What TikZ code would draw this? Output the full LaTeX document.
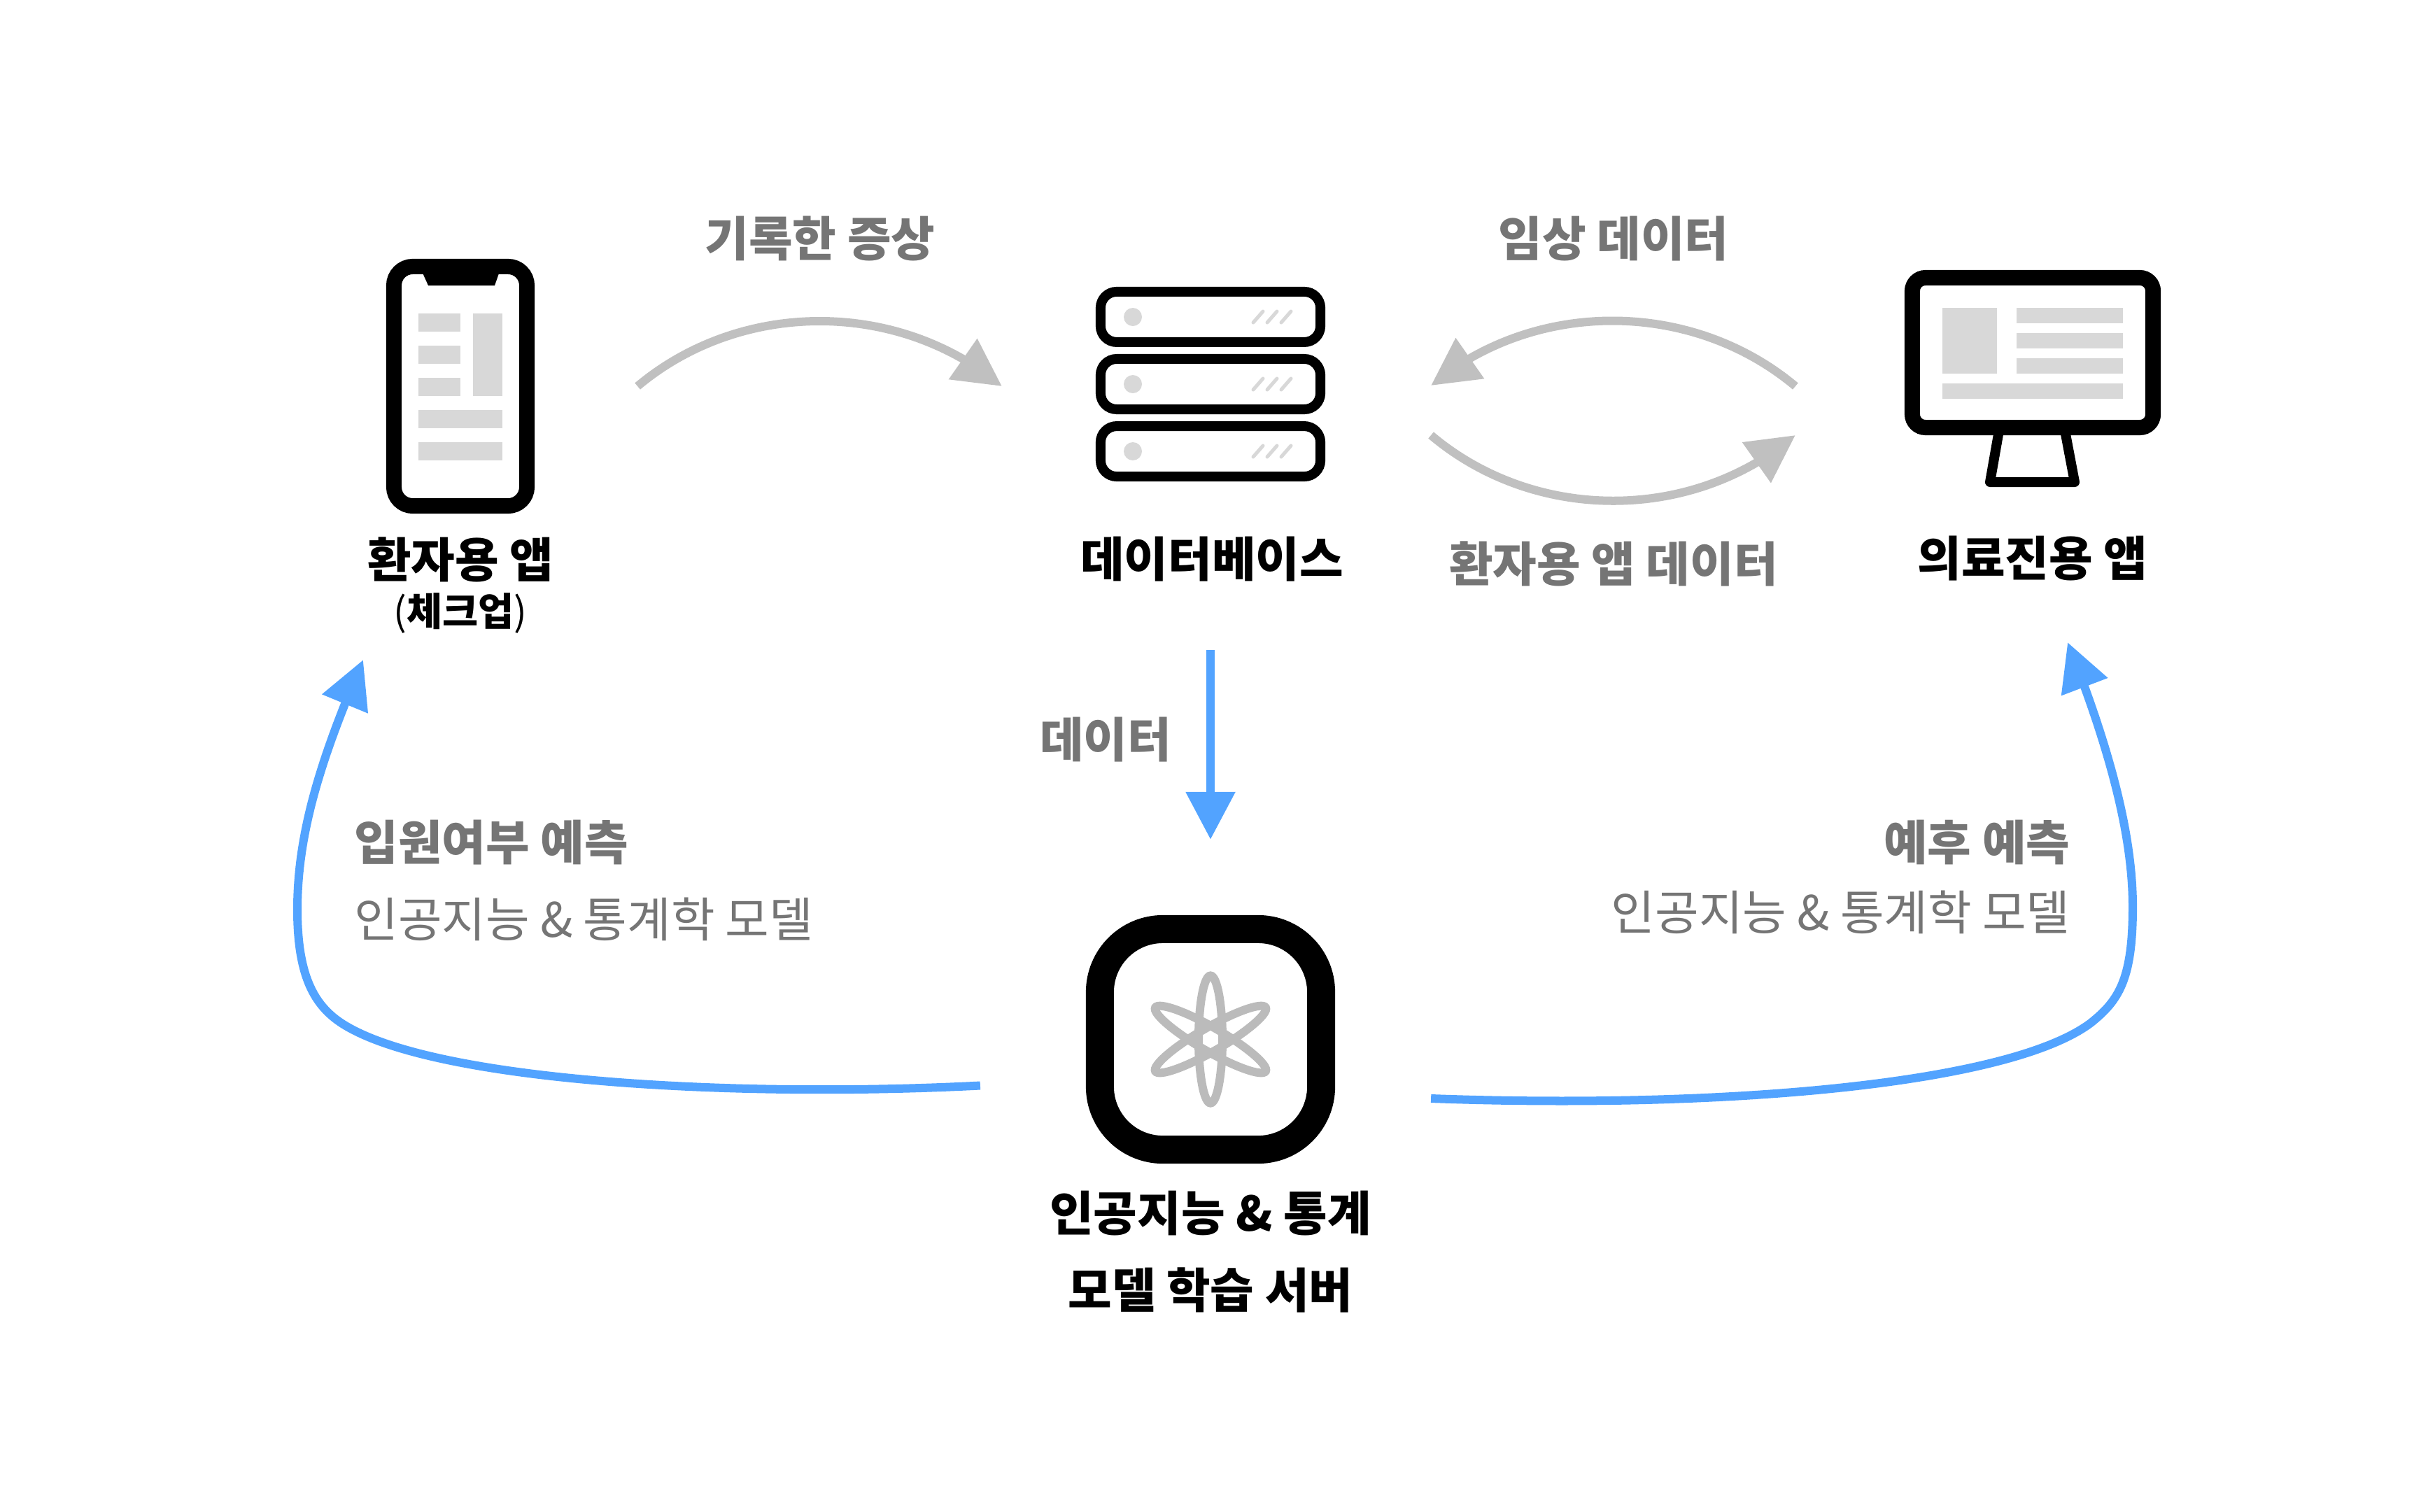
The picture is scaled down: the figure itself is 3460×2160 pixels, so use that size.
\documentclass[tikz,border=0pt]{standalone}
\usepackage{fontspec}
\setmainfont{Noto Sans CJK KR}
\usetikzlibrary{arrows.meta, bending, positioning}
\definecolor{panelgray}{HTML}{D8D8D8}
\definecolor{linegray}{HTML}{C0C0C0}
\definecolor{orbitgray}{HTML}{BBBBBB}
\definecolor{textgray}{HTML}{757575}
\definecolor{flowblue}{HTML}{52A3FF}

\begin{document}
\begin{tikzpicture}[
  x=0.01cm, y=-0.01cm,
  iconframe/.style={rectangle, draw=black, fill=white, inner sep=0pt},
  rackframe/.style={iconframe, line width=0.14cm, rounded corners=0.23cm, minimum width=3.14cm, minimum height=0.72cm},
  panel/.style={fill=panelgray},
  titletext/.style={inner sep=0pt, align=center, font=\fontsize{19.35}{31.3}\selectfont\bfseries},
  subtext/.style={inner sep=0pt, font=\fontsize{15.8}{18}\selectfont\bfseries},
  flowtext/.style={inner sep=0pt, text=textgray, font=\fontsize{19.35}{31.3}\selectfont\bfseries},
  predtext/.style={inner sep=0pt, text=textgray, font=\fontsize{19.35}{31.3}\selectfont},
  grayarrow/.style={-{Triangle[length=0.68cm, width=0.68cm]}, draw=linegray, line width=0.12cm},
  bluearrow/.style={-{Triangle[length=0.68cm, width=0.68cm]}, draw=flowblue, line width=0.12cm}
]
  \useasboundingbox (0,0) rectangle (3460,2160);

  % phone
  \node[iconframe, line width=0.22cm, rounded corners=0.27cm, minimum width=1.9cm, minimum height=3.42cm] (phone) at (658,552) {};
  \fill (603,388) -- (612,408) -- (707,408) -- (714,388) -- cycle;
  \foreach \y in {448,494,540} \fill[panel] (598,\y) rectangle +(60,26);
  \fill[panel] (676,448) rectangle (718,566);
  \fill[panel] (598,586) rectangle (718,612);
  \fill[panel] (598,632) rectangle (718,658);
  \node[titletext, below=0.33cm of phone] (phonename) {환자용 앱};
  \node[subtext, below=0.14cm of phonename] (phonesub) {{\mdseries(}체크업{\mdseries)}};

  % database
  \node[rackframe] (dbmid) at (1730,549) {};
  \node[rackframe, above=0.1cm of dbmid] (dbtop) {};
  \node[rackframe, below=0.1cm of dbmid] (dbbot) {};
  \foreach \y in {453,549,645} {
    \fill[panel] (1619,\y) circle [radius=0.13cm];
    \foreach \x in {1791,1811,1831}
      \draw[panelgray, line width=0.05cm, line cap=round] (\x,\y+8) -- (\x+14,\y-8);
  }
  \node[titletext, below=0.78cm of dbbot, xshift=0.02cm] (dbname) {데이터베이스};

  % monitor
  \draw[line width=0.14cm, line join=round] (2857,615) -- (2844,689) -- (2965,689) -- (2951,615);
  \node[iconframe, line width=0.22cm, rounded corners=0.19cm, minimum width=3.44cm, minimum height=2.14cm] (monitor) at (2905,504) {};
  \fill[panel] (2776,440) rectangle (2854,534);
  \foreach \y in {440,476,512} \fill[panel] (2882,\y) rectangle +(152,22);
  \fill[panel] (2776,548) rectangle (3034,570);
  \node[titletext, below=1.43cm of monitor] (monitorname) {의료진용 앱};

  % server
  \node[iconframe, line width=0.4cm, rounded corners=0.9cm, minimum width=3.16cm, minimum height=3.15cm] (server) at (1730,1485.5) {};
  \foreach \a in {0,60,120}
    \draw[orbitgray, line width=0.12cm, rotate around={\a:(server.center)}] (server.center) ellipse [x radius=0.17cm, y radius=0.91cm];
  \node[titletext, below=0.38cm of server] (servername) {인공지능 \& 통계\\모델 학습 서버};

  % flow labels
  \node[flowtext] (symptomtext) at (1172,341) {기록한 증상};
  \node[flowtext] (clinicaltext) at (2306,341) {임상 데이터};
  \node[flowtext] (apptext) at (2306,806) {환자용 앱 데이터};
  \node[flowtext] (datatext) at (1580,1057) {데이터};
  \node[predtext, align=left, anchor=north west] (admittext) at (506,1171) {{\bfseries 입원여부 예측}\\인공지능 \& 통계학 모델};
  \node[predtext, align=right, anchor=north east] (prognosistext) at (2959,1171) {{\bfseries 예후 예측}\\[-2.84pt]인공지능 \& 통계학 모델};

  % arrows
  \draw[grayarrow] ([xshift=1.47cm]phone.east) .. controls +(148,-124) and +(-148,-124) .. ([shift={(-134,3)}]dbmid.west);
  \draw[grayarrow] ([shift={(-156,48)}]monitor.west) .. controls +(-148,-124) and +(148,-124) .. ([shift={(151,2)}]dbmid.east);
  \draw[grayarrow] ([shift={(151,73)}]dbmid.east) .. controls +(148,125) and +(-148,125) .. ([shift={(-156,118)}]monitor.west);
  \draw[bluearrow, shorten <=2.41cm, shorten >=1.08cm] (dbbot) -- (server);
  \draw[bluearrow] ([shift={(-151,66)}]server.west) .. controls +(-351,18) and +(134,80) .. (494,1466) .. controls +(-42,-25) and +(0,100) .. (425,1300) .. controls +(0,-112) and +(-59,138) .. ([shift={(-139,209)}]phone.south);
  \draw[bluearrow] ([shift={(137,84.5)}]server.east) .. controls +(405,15) and +(-120,90) .. (2988,1462) .. controls +(40,-32) and +(0,104) .. (3048,1296) .. controls +(0,-110) and +(55,139) .. ([shift={(50,296)}]monitor.south);
\end{tikzpicture}
\end{document}
